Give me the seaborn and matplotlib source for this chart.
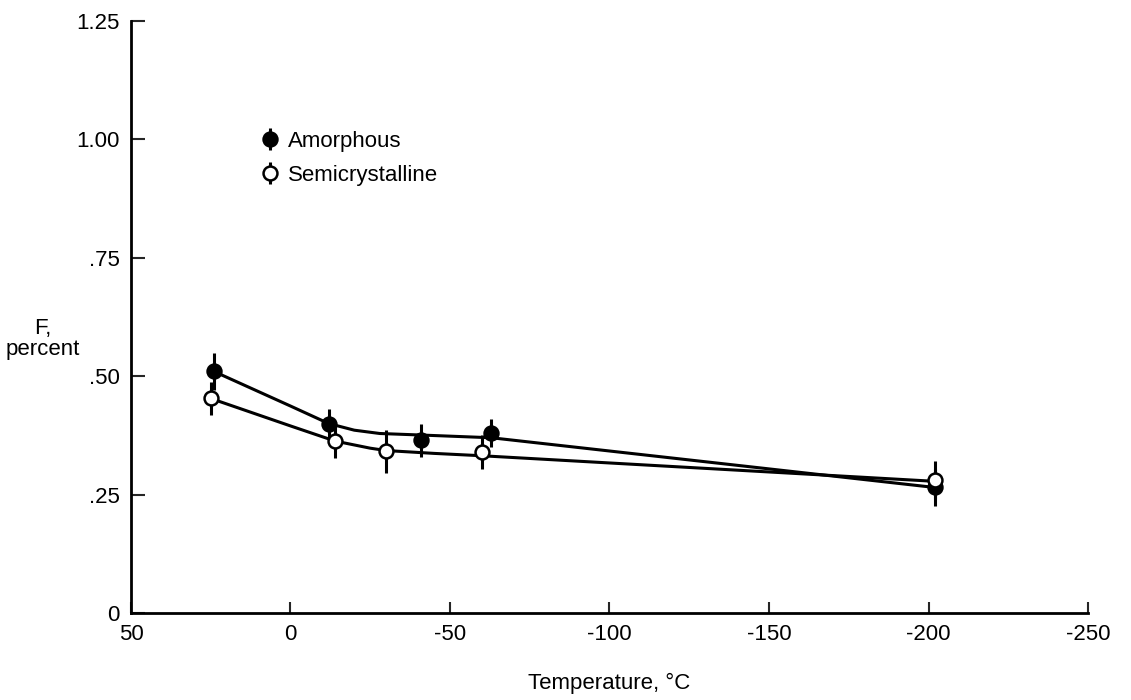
import matplotlib
matplotlib.use("Agg")
import matplotlib.pyplot as plt
import numpy as np
import pandas as pd
import seaborn as sns

# measured points (temperature in C, F in percent, error half-height)
amorph_T = [24, -12, -41, -63, -202]
amorph_F = [0.51, 0.40, 0.365, 0.38, 0.265]
amorph_err = [0.04, 0.03, 0.035, 0.03, 0.04]

semi_T = [25, -14, -30, -60, -202]
semi_F = [0.453, 0.363, 0.341, 0.340, 0.280]
semi_err = [0.035, 0.035, 0.045, 0.035, 0.04]

# faired curves
amorph_curve_T = [24, 0, -12, -20, -28, -40, -63, -202]
amorph_curve_F = [0.51, 0.437, 0.40, 0.386, 0.379, 0.376, 0.37, 0.265]
semi_curve_T = [25, 0, -14, -25, -30, -45, -60, -202]
semi_curve_F = [0.453, 0.395, 0.363, 0.348, 0.343, 0.337, 0.332, 0.278]

x_ticks = [50, 0, -50, -100, -150, -200, -250]
x_labels = ["50", "0", "-50", "-100", "-150", "-200", "-250"]
y_ticks = [0, 0.25, 0.50, 0.75, 1.00, 1.25]
y_labels = ["0", ".25", ".50", ".75", "1.00", "1.25"]

sns.set_style("white")
plt.rcParams['font.family'] = ['Liberation Sans', 'DejaVu Sans']

fig = plt.figure(figsize=(11.31, 7), dpi=100)
ax = fig.add_axes([0.1158, 0.1243, 0.8462, 0.8457])

curves = pd.concat([
    pd.DataFrame({"T": amorph_curve_T, "F": amorph_curve_F, "s": "Amorphous"}),
    pd.DataFrame({"T": semi_curve_T, "F": semi_curve_F, "s": "Semicrystalline"}),
])
sns.lineplot(data=curves, x="T", y="F", units="s", estimator=None, sort=False,
             color="black", lw=2.2, ax=ax, legend=False)

h1 = ax.errorbar(amorph_T, amorph_F, yerr=amorph_err, fmt="o", ms=10,
                 mfc="black", mec="black", mew=1.8, ecolor="black",
                 elinewidth=2.2, capsize=0, zorder=4, label="Amorphous")
h2 = ax.errorbar(semi_T, semi_F, yerr=semi_err, fmt="o", ms=10,
                 mfc="white", mec="black", mew=1.8, ecolor="black",
                 elinewidth=2.2, capsize=0, zorder=5, label="Semicrystalline")

ax.set_xlim(50, -250)
ax.set_ylim(0, 1.25)
ax.set_xticks(x_ticks)
ax.set_xticklabels(x_labels)
ax.set_yticks(y_ticks)
ax.set_yticklabels(y_labels)

for s in ["top", "right"]:
    ax.spines[s].set_visible(False)
for s in ["left", "bottom"]:
    ax.spines[s].set_linewidth(2)
    ax.spines[s].set_color("black")

ax.tick_params(axis="y", direction="in", length=10, width=1.5, labelsize=16,
               pad=8, labelcolor="black")
ax.tick_params(axis="x", direction="in", length=8, width=1.5, labelsize=16,
               pad=8, labelcolor="black")
ax.tick_params(left=True, bottom=True)

ax.set_xlabel("Temperature, °C", fontsize=16, labelpad=20, color="black")
ax.set_ylabel("F,\npercent", fontsize=16, rotation=0, labelpad=0,
              ha="center", va="center", color="black", linespacing=1.0)
ax.yaxis.set_label_coords(-0.092, 0.462)

leg = ax.legend(handles=[h1, h2], loc="upper left", bbox_to_anchor=(0.129, 0.83),
                frameon=False, fontsize=16, handlelength=0.6, handletextpad=0.5,
                labelspacing=0.6, borderaxespad=0)
for t in leg.get_texts():
    t.set_color("black")

fig.savefig("out.png", dpi=100)
